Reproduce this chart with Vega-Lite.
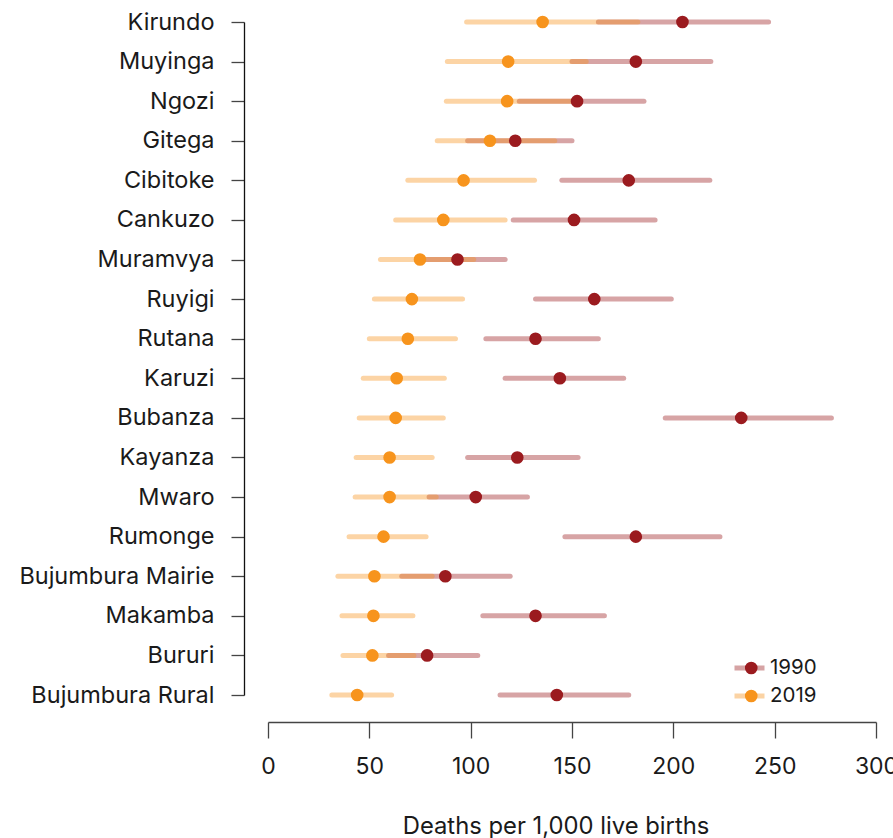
{
  "$schema": "https://vega.github.io/schema/vega-lite/v6.json",
  "width": 608,
  "height": 673,
  "autosize": {"type": "none"},
  "padding": {"left": 268, "top": 22, "right": 17, "bottom": 143},
  "config": {
    "view": {"stroke": null},
    "font": "Inter",
    "axis": {"labelFont": "Inter", "titleFont": "Inter", "grid": false},
    "legend": {"labelFont": "Inter"}
  },
  "data": {
    "values": [
      {"district": "Kirundo", "year": "1990", "lower": 163, "value": 204.5, "upper": 247},
      {"district": "Muyinga", "year": "1990", "lower": 150, "value": 181.5, "upper": 218.5},
      {"district": "Ngozi", "year": "1990", "lower": 124, "value": 152.5, "upper": 185.5},
      {"district": "Gitega", "year": "1990", "lower": 98.5, "value": 122, "upper": 150},
      {"district": "Cibitoke", "year": "1990", "lower": 145, "value": 178, "upper": 218},
      {"district": "Cankuzo", "year": "1990", "lower": 121, "value": 151, "upper": 191},
      {"district": "Muramvya", "year": "1990", "lower": 77.5, "value": 93.5, "upper": 117},
      {"district": "Ruyigi", "year": "1990", "lower": 132, "value": 161, "upper": 199},
      {"district": "Rutana", "year": "1990", "lower": 107.5, "value": 132, "upper": 163},
      {"district": "Karuzi", "year": "1990", "lower": 117, "value": 144, "upper": 175.5},
      {"district": "Bubanza", "year": "1990", "lower": 196, "value": 233.5, "upper": 278},
      {"district": "Kayanza", "year": "1990", "lower": 98.5, "value": 123, "upper": 153},
      {"district": "Mwaro", "year": "1990", "lower": 79.5, "value": 102.5, "upper": 128},
      {"district": "Rumonge", "year": "1990", "lower": 146.5, "value": 181.5, "upper": 223},
      {"district": "Bujumbura Mairie", "year": "1990", "lower": 66, "value": 87.5, "upper": 119.5},
      {"district": "Makamba", "year": "1990", "lower": 106, "value": 132, "upper": 166},
      {"district": "Bururi", "year": "1990", "lower": 59.5, "value": 78.5, "upper": 103.5},
      {"district": "Bujumbura Rural", "year": "1990", "lower": 114.5, "value": 142.5, "upper": 178},
      {"district": "Kirundo", "year": "2019", "lower": 98, "value": 135.5, "upper": 182.5},
      {"district": "Muyinga", "year": "2019", "lower": 88.5, "value": 118.5, "upper": 157},
      {"district": "Ngozi", "year": "2019", "lower": 88, "value": 118, "upper": 153},
      {"district": "Gitega", "year": "2019", "lower": 83.5, "value": 109.5, "upper": 141.5},
      {"district": "Cibitoke", "year": "2019", "lower": 69, "value": 96.5, "upper": 131.5},
      {"district": "Cankuzo", "year": "2019", "lower": 63, "value": 86.5, "upper": 117},
      {"district": "Muramvya", "year": "2019", "lower": 55.5, "value": 75, "upper": 101.5},
      {"district": "Ruyigi", "year": "2019", "lower": 52.5, "value": 71, "upper": 96},
      {"district": "Rutana", "year": "2019", "lower": 50, "value": 69, "upper": 92.5},
      {"district": "Karuzi", "year": "2019", "lower": 47, "value": 63.5, "upper": 87},
      {"district": "Bubanza", "year": "2019", "lower": 45, "value": 63, "upper": 86.5},
      {"district": "Kayanza", "year": "2019", "lower": 43.5, "value": 60, "upper": 81},
      {"district": "Mwaro", "year": "2019", "lower": 43, "value": 60, "upper": 83},
      {"district": "Rumonge", "year": "2019", "lower": 40, "value": 57, "upper": 78},
      {"district": "Bujumbura Mairie", "year": "2019", "lower": 34.5, "value": 52.5, "upper": 81},
      {"district": "Makamba", "year": "2019", "lower": 36.5, "value": 52, "upper": 71.5},
      {"district": "Bururi", "year": "2019", "lower": 37, "value": 51.5, "upper": 72},
      {"district": "Bujumbura Rural", "year": "2019", "lower": 31.5, "value": 44, "upper": 61}
    ]
  },
  "encoding": {
    "y": {
      "field": "district",
      "type": "nominal",
      "sort": ["Kirundo", "Muyinga", "Ngozi", "Gitega", "Cibitoke", "Cankuzo", "Muramvya", "Ruyigi", "Rutana", "Karuzi", "Bubanza", "Kayanza", "Mwaro", "Rumonge", "Bujumbura Mairie", "Makamba", "Bururi", "Bujumbura Rural"],
      "scale": {"type": "point", "padding": 0},
      "axis": {
        "title": null,
        "offset": 24,
        "tickSize": 13,
        "tickWidth": 1.3,
        "tickColor": "#444444",
        "domainColor": "#111111",
        "domainWidth": 1.3,
        "labelFontSize": 23.5,
        "labelLimit": 400,
        "labelColor": "#1a1a1a",
        "labelPadding": 17
      }
    }
  },
  "layer": [
    {
      "mark": {"type": "rule", "strokeWidth": 5, "strokeCap": "round", "opacity": 0.4},
      "encoding": {
        "x": {
          "field": "lower",
          "type": "quantitative",
          "scale": {"domain": [0, 300], "nice": false},
          "axis": {
            "title": "Deaths per 1,000 live births",
            "values": [0, 50, 100, 150, 200, 250, 300],
            "offset": 27,
            "tickSize": 16,
            "tickWidth": 1.3,
            "tickColor": "#444444",
            "domainColor": "#444444",
            "domainWidth": 1.3,
            "labelFontSize": 23,
            "labelColor": "#1a1a1a",
            "labelPadding": 17,
            "labelFlush": false,
            "titleFontSize": 23.8,
            "titleFontWeight": "normal",
            "titleColor": "#1a1a1a",
            "titleX": 287.5,
            "titleY": 111,
            "titleAlign": "center",
            "titleBaseline": "alphabetic"
          }
        },
        "x2": {"field": "upper"},
        "color": {
          "field": "year",
          "type": "nominal",
          "scale": {"domain": ["1990", "2019"], "range": ["#9b1b1f", "#f7941d"]},
          "legend": {
            "title": null,
            "orient": "none",
            "legendX": 464,
            "legendY": 632,
            "padding": 0,
            "symbolType": "stroke",
            "symbolSize": 900,
            "symbolStrokeWidth": 5,
            "symbolOpacity": 0.4,
            "clipHeight": 28,
            "rowPadding": 0,
            "labelFontSize": 20.5,
            "labelColor": "#1a1a1a",
            "labelOffset": 3
          }
        }
      }
    },
    {
      "mark": {"type": "point", "filled": true, "size": 160, "opacity": 1, "strokeWidth": 0},
      "encoding": {
        "x": {"field": "value", "type": "quantitative"},
        "fill": {
          "field": "year",
          "type": "nominal",
          "scale": {"domain": ["2019", "1990"], "range": ["#f7941d", "#9b1b1f"]},
          "legend": {
            "title": null,
            "values": ["1990", "2019"],
            "orient": "none",
            "legendX": 473,
            "legendY": 632,
            "padding": 0,
            "symbolType": "circle",
            "symbolSize": 160,
            "symbolOpacity": 1,
            "symbolStrokeWidth": 0,
            "clipHeight": 28,
            "rowPadding": 0,
            "labelExpr": "''",
            "labelFontSize": 20.5,
            "labelOffset": 3
          }
        }
      }
    }
  ]
}
